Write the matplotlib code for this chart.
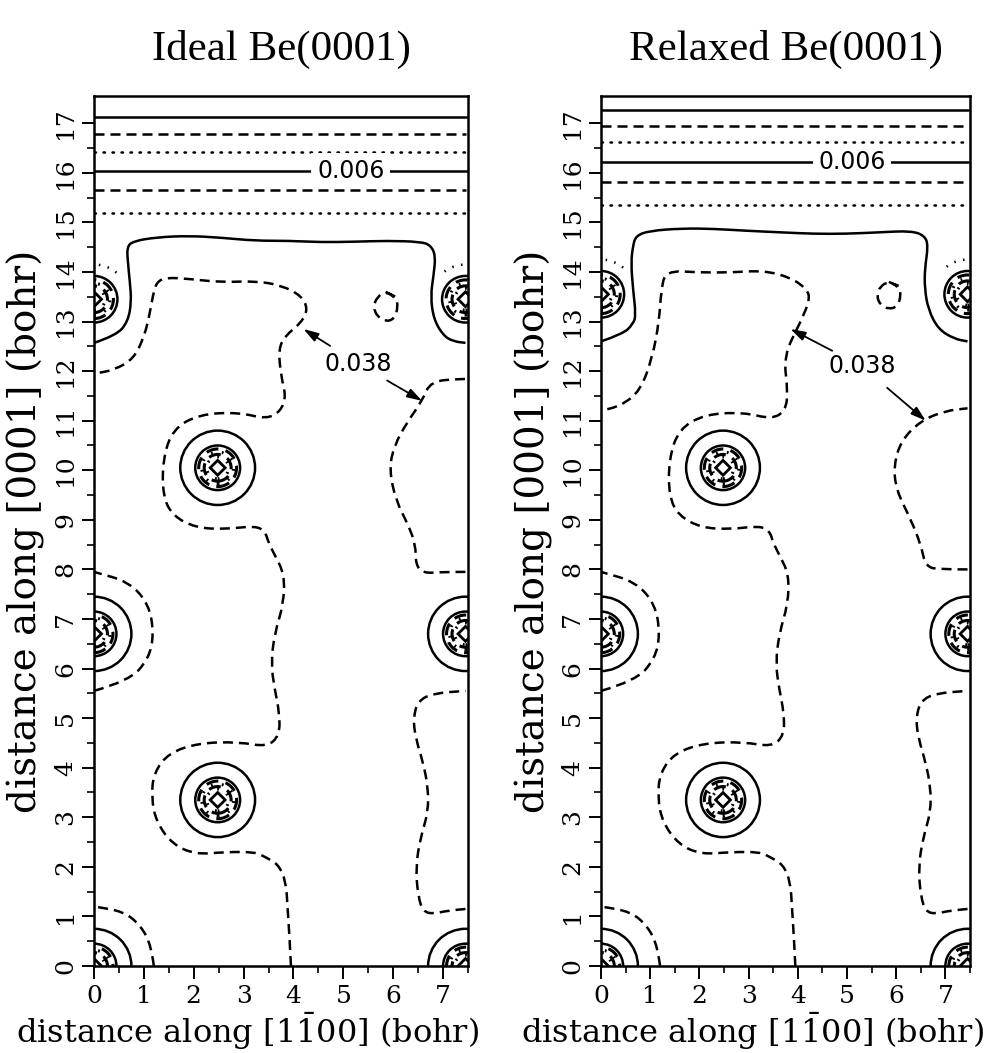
import matplotlib
matplotlib.use("Agg")
import matplotlib.pyplot as plt
from matplotlib.patches import Circle, Arc, RegularPolygon, PathPatch
from matplotlib.path import Path

plt.rcParams['font.family'] = ['DejaVu Serif']
plt.rcParams['mathtext.fontset'] = 'dejavuserif'

# ---------------- data (bohr) ----------------
X_MAX = 7.45
Y_MAX = 17.55
x_ticks = [0, 1, 2, 3, 4, 5, 6, 7]
y_ticks = list(range(0, 18))

titles = ["Ideal Be(0001)", "Relaxed Be(0001)"]

# atom positions
bulk_atoms_x = [0.0, 7.45, 2.48, 0.0, 7.45, 2.48]
bulk_atoms_y = [0.0, 0.0, 3.35, 6.70, 6.70, 10.05]
surf_atoms_x = [0.0, 7.45]
surf_atoms_y_ideal = [13.45, 13.45]
surf_atoms_y_relaxed = [13.55, 13.55]

# vacuum (flat) contours
vac_styles = ['solid', 'dashed', 'dotted', 'solid', 'dashed', 'dotted']
vac_y_ideal = [17.13, 16.79, 16.42, 16.04, 15.66, 15.19]
vac_y_relaxed = [17.27, 16.95, 16.62, 16.22, 15.82, 15.35]
label_006_ideal = (5.15, 16.04)
label_006_relaxed = (5.10, 16.22)

# surface (solid) contour wrapping the top layer
surf_x_ideal = [0.0, 0.45, 0.68, 0.75, 0.72, 0.68, 0.66, 0.78, 1.25, 1.91, 2.57, 3.23, 3.90, 4.56,
                5.22, 5.88, 6.55, 6.75, 6.85, 6.81, 6.75, 6.81, 7.01, 7.21, 7.45]
surf_y_ideal = [12.57, 12.72, 13.0, 13.4, 13.79, 14.19, 14.50, 14.62, 14.70, 14.73, 14.69, 14.63, 14.63,
                14.60, 14.61, 14.63, 14.61, 14.54, 14.33, 13.93, 13.52, 13.05, 12.71, 12.60, 12.57]
surf_x_relaxed = [0.0, 0.45, 0.65, 0.71, 0.65, 0.61, 0.65, 0.71, 0.98, 1.65, 2.31, 2.98, 3.65, 4.31,
                  4.98, 5.65, 6.31, 6.58, 6.65, 6.58, 6.58, 6.65, 6.85, 7.18, 7.45]
surf_y_relaxed = [12.60, 12.75, 12.95, 13.12, 13.66, 14.19, 14.53, 14.73, 14.83, 14.88, 14.87, 14.83,
                  14.80, 14.77, 14.77, 14.80, 14.83, 14.73, 14.53, 14.06, 13.66, 13.25, 12.85, 12.65, 12.60]

# 0.038 contour (dashed) pieces
A_x_ideal = [3.95, 3.92, 3.88, 3.85, 3.70, 3.43, 3.23, 2.64, 2.04, 1.58, 1.25, 1.15, 1.20, 1.50, 2.11,
             2.90, 3.47, 3.72, 3.72, 3.62, 3.55, 3.62, 3.80, 3.82, 3.62, 3.50, 3.43, 3.23, 2.64, 2.04,
             1.58, 1.38, 1.38, 1.58, 2.11, 2.90, 3.47, 3.75, 3.85, 3.75, 3.70, 3.83, 4.16, 4.29, 4.16,
             3.76, 3.23, 2.57, 1.91, 1.44, 1.25, 1.18, 1.11, 1.01, 0.80, 0.40, 0.0]
A_y_ideal = [0.0, 0.6, 1.2, 1.7, 2.05, 2.2, 2.3, 2.3, 2.25, 2.45, 2.9, 3.4, 3.9, 4.3, 4.5,
             4.52, 4.42, 4.65, 5.1, 5.6, 6.1, 6.7, 7.3, 7.9, 8.3, 8.54, 8.77, 8.88, 8.81, 8.84,
             9.08, 9.48, 10.22, 10.83, 11.13, 11.17, 11.03, 11.2, 11.5, 11.9, 12.44, 12.71, 12.98, 13.25,
             13.52, 13.73, 13.82, 13.79, 13.86, 13.89, 13.79, 13.52, 13.12, 12.71, 12.25, 12.02, 11.95]
A_x_relaxed = A_x_ideal[:37] + [3.75, 3.80, 3.71, 4.05, 4.25, 4.18, 3.85, 3.31, 2.65, 1.98, 1.31, 1.22,
                                1.18, 1.05, 0.80, 0.40, 0.0]
A_y_relaxed = A_y_ideal[:37] + [11.2, 11.6, 12.3, 12.98, 13.45, 13.66, 13.89, 14.03, 13.99, 13.99, 14.03,
                                13.6, 13.0, 12.3, 11.6, 11.3, 11.2]

B1_x = [7.45, 7.1, 6.8, 6.6, 6.5, 6.45, 6.55, 6.7, 6.7, 6.6, 6.45, 6.4, 6.5, 6.8, 7.45]
B1_y = [1.15, 1.12, 1.05, 1.1, 1.4, 2.0, 2.6, 3.1, 3.6, 4.1, 4.6, 5.0, 5.35, 5.5, 5.55]

B2_x_ideal = [7.45, 7.0, 6.6, 6.45, 6.45, 6.3, 6.05, 5.92, 6.02, 6.28, 6.58, 6.75, 7.34, 7.45]
B2_y_ideal = [7.95, 7.95, 7.92, 8.1, 8.5, 8.9, 9.4, 10.02, 10.5, 10.97, 11.4, 11.8, 11.84, 11.84]
B2_x_relaxed = [7.45, 6.9, 6.6, 6.5, 6.3, 6.0, 5.95, 6.1, 6.5, 7.0, 7.45]
B2_y_relaxed = [8.0, 8.0, 8.05, 8.5, 9.0, 9.6, 10.1, 10.6, 11.0, 11.2, 11.25]

C0_x = [1.2, 1.15, 0.95, 0.6, 0.0]
C0_y = [0.0, 0.4, 0.8, 1.1, 1.2]
C1_x = [0.0, 0.7, 1.1, 1.2, 1.1, 0.7, 0.0]
C1_y = [5.55, 5.75, 6.2, 6.7, 7.3, 7.75, 7.95]

E_x = [5.85, 6.05, 6.1, 6.02, 5.85, 5.68, 5.6, 5.68, 5.85, 6.05]
E_y_ideal = [13.6, 13.5, 13.3, 13.05, 13.0, 13.1, 13.3, 13.5, 13.6, 13.5]
E_y_relaxed = [13.8, 13.72, 13.52, 13.3, 13.25, 13.33, 13.52, 13.72, 13.8, 13.72]

# label 0.038 and arrow targets
lab038_ideal = (5.3, 12.15)
arrows038_ideal = [(4.2, 12.85), (6.58, 11.4)]
lab038_relaxed = (5.3, 12.1)
arrows038_relaxed = [(3.85, 12.85), (6.6, 11.0)]

# atom ring radii / styles
bulk_ring_r = [0.75, 0.45, 0.38, 0.32, 0.27, 0.22]
bulk_ring_s = ['solid', 'solid', 'dashed', 'dotted', 'dashed', 'dotted']
surf_ring_r = [0.47, 0.39, 0.32, 0.27, 0.22]
surf_ring_s = ['solid', 'dashed', 'dotted', 'dashed', 'dotted']
core_r = 0.15

# ---------------- styling ----------------
LW = 1.8
STY = {'solid': '-', 'dashed': (0, (4.0, 2.4)), 'dotted': (0, (0.6, 3.0))}


def smooth_curve(ax, xs, ys, style, lw=LW):
    pts = list(zip(xs, ys))
    verts = [pts[0]]
    codes = [Path.MOVETO]
    for i in range(1, len(pts) - 1):
        mid = ((pts[i][0] + pts[i + 1][0]) / 2, (pts[i][1] + pts[i + 1][1]) / 2)
        verts += [pts[i], mid]
        codes += [Path.CURVE3, Path.CURVE3]
    verts.append(pts[-1])
    codes.append(Path.LINETO)
    ax.add_patch(PathPatch(Path(verts, codes), fill=False, ec='k', lw=lw,
                           linestyle=STY[style], capstyle='butt'))


def draw_atom(ax, cx, cy, radii, styles):
    for r, s in zip(radii, styles):
        ax.add_patch(Circle((cx, cy), r, fill=False, ec='k', lw=LW if s == 'solid' else 2.2,
                            linestyle=STY[s]))
    ax.add_patch(RegularPolygon((cx, cy), 4, radius=core_r, fill=False, ec='k', lw=2.0))


def draw_panel(ax, title, vac_y, lab006, surf_x, surf_y, A_x, A_y, B2_x, B2_y, surf_y_at,
               E_y, lab038, arrows):
    for y, s in zip(vac_y, vac_styles):
        ax.plot([0, X_MAX], [y, y], color='k', lw=LW, linestyle=STY[s],
                dash_capstyle='round' if s == 'dotted' else 'butt')
    ax.text(lab006[0], lab006[1], "0.006", ha='center', va='center', fontsize=17,
            family='DejaVu Sans', bbox=dict(fc='white', ec='none', pad=4))
    smooth_curve(ax, surf_x, surf_y, 'solid')
    for xs, ys in [(A_x, A_y), (B1_x, B1_y), (B2_x, B2_y), (C0_x, C0_y), (C1_x, C1_y), (E_x, E_y)]:
        smooth_curve(ax, xs, ys, 'dashed')
    for cx, cy in zip(bulk_atoms_x, bulk_atoms_y):
        draw_atom(ax, cx, cy, bulk_ring_r, bulk_ring_s)
    for cx, cy in zip(surf_atoms_x, surf_y_at):
        draw_atom(ax, cx, cy, surf_ring_r, surf_ring_s)
    ax.add_patch(Arc((surf_atoms_x[0], surf_y_at[0]), 1.4, 1.4, theta1=50, theta2=85,
                     ec='k', lw=LW, linestyle=STY['dotted']))
    ax.add_patch(Arc((surf_atoms_x[1], surf_y_at[1]), 1.4, 1.4, theta1=95, theta2=128,
                     ec='k', lw=LW, linestyle=STY['dotted']))
    for tx, ty in arrows:
        ax.annotate("", xy=(tx, ty), xytext=lab038,
                    arrowprops=dict(arrowstyle='-|>,head_length=0.9,head_width=0.28', color='k',
                                    lw=1.3, shrinkA=24, shrinkB=0))
    ax.text(lab038[0], lab038[1], "0.038", ha='center', va='center', fontsize=17,
            family='DejaVu Sans', bbox=dict(fc='white', ec='none', pad=1))

    ax.set_xlim(0, X_MAX)
    ax.set_ylim(0, Y_MAX)
    ax.set_xticks(x_ticks)
    ax.set_yticks(y_ticks)
    ax.set_xticks([t + 0.5 for t in x_ticks], minor=True)
    ax.set_yticks([t + 0.5 for t in y_ticks[:-1]], minor=True)
    ax.tick_params(which='major', direction='out', length=9, width=1.4, labelsize=18, pad=5)
    ax.tick_params(which='minor', direction='out', length=5, width=1.2)
    ax.tick_params(axis='y', labelrotation=90, pad=3)
    for lab in ax.get_yticklabels():
        lab.set_va('center')
    for sp in ax.spines.values():
        sp.set_linewidth(1.8)
    ax.set_xlabel(r"distance along [1$\mathrm{\bar{1}}$00] (bohr)", fontsize=23)
    ax.set_ylabel("distance along [0001] (bohr)", fontsize=28)
    ax.xaxis.set_label_coords(0.41, -0.052)
    ax.yaxis.set_label_coords(-0.13, 0.5)
    ax.set_title(title, fontsize=31, family='Liberation Serif', pad=26)


fig = plt.figure(figsize=(10.08, 10.53), dpi=100)
ax1 = fig.add_axes([94 / 1008, 87 / 1053, 374 / 1008, 870 / 1053])
ax2 = fig.add_axes([601 / 1008, 87 / 1053, 369 / 1008, 870 / 1053])

draw_panel(ax1, titles[0], vac_y_ideal, label_006_ideal, surf_x_ideal, surf_y_ideal,
           A_x_ideal, A_y_ideal, B2_x_ideal, B2_y_ideal, surf_atoms_y_ideal, E_y_ideal,
           lab038_ideal, arrows038_ideal)
draw_panel(ax2, titles[1], vac_y_relaxed, label_006_relaxed, surf_x_relaxed, surf_y_relaxed,
           A_x_relaxed, A_y_relaxed, B2_x_relaxed, B2_y_relaxed, surf_atoms_y_relaxed, E_y_relaxed,
           lab038_relaxed, arrows038_relaxed)

fig.savefig("out.png", dpi=100)
